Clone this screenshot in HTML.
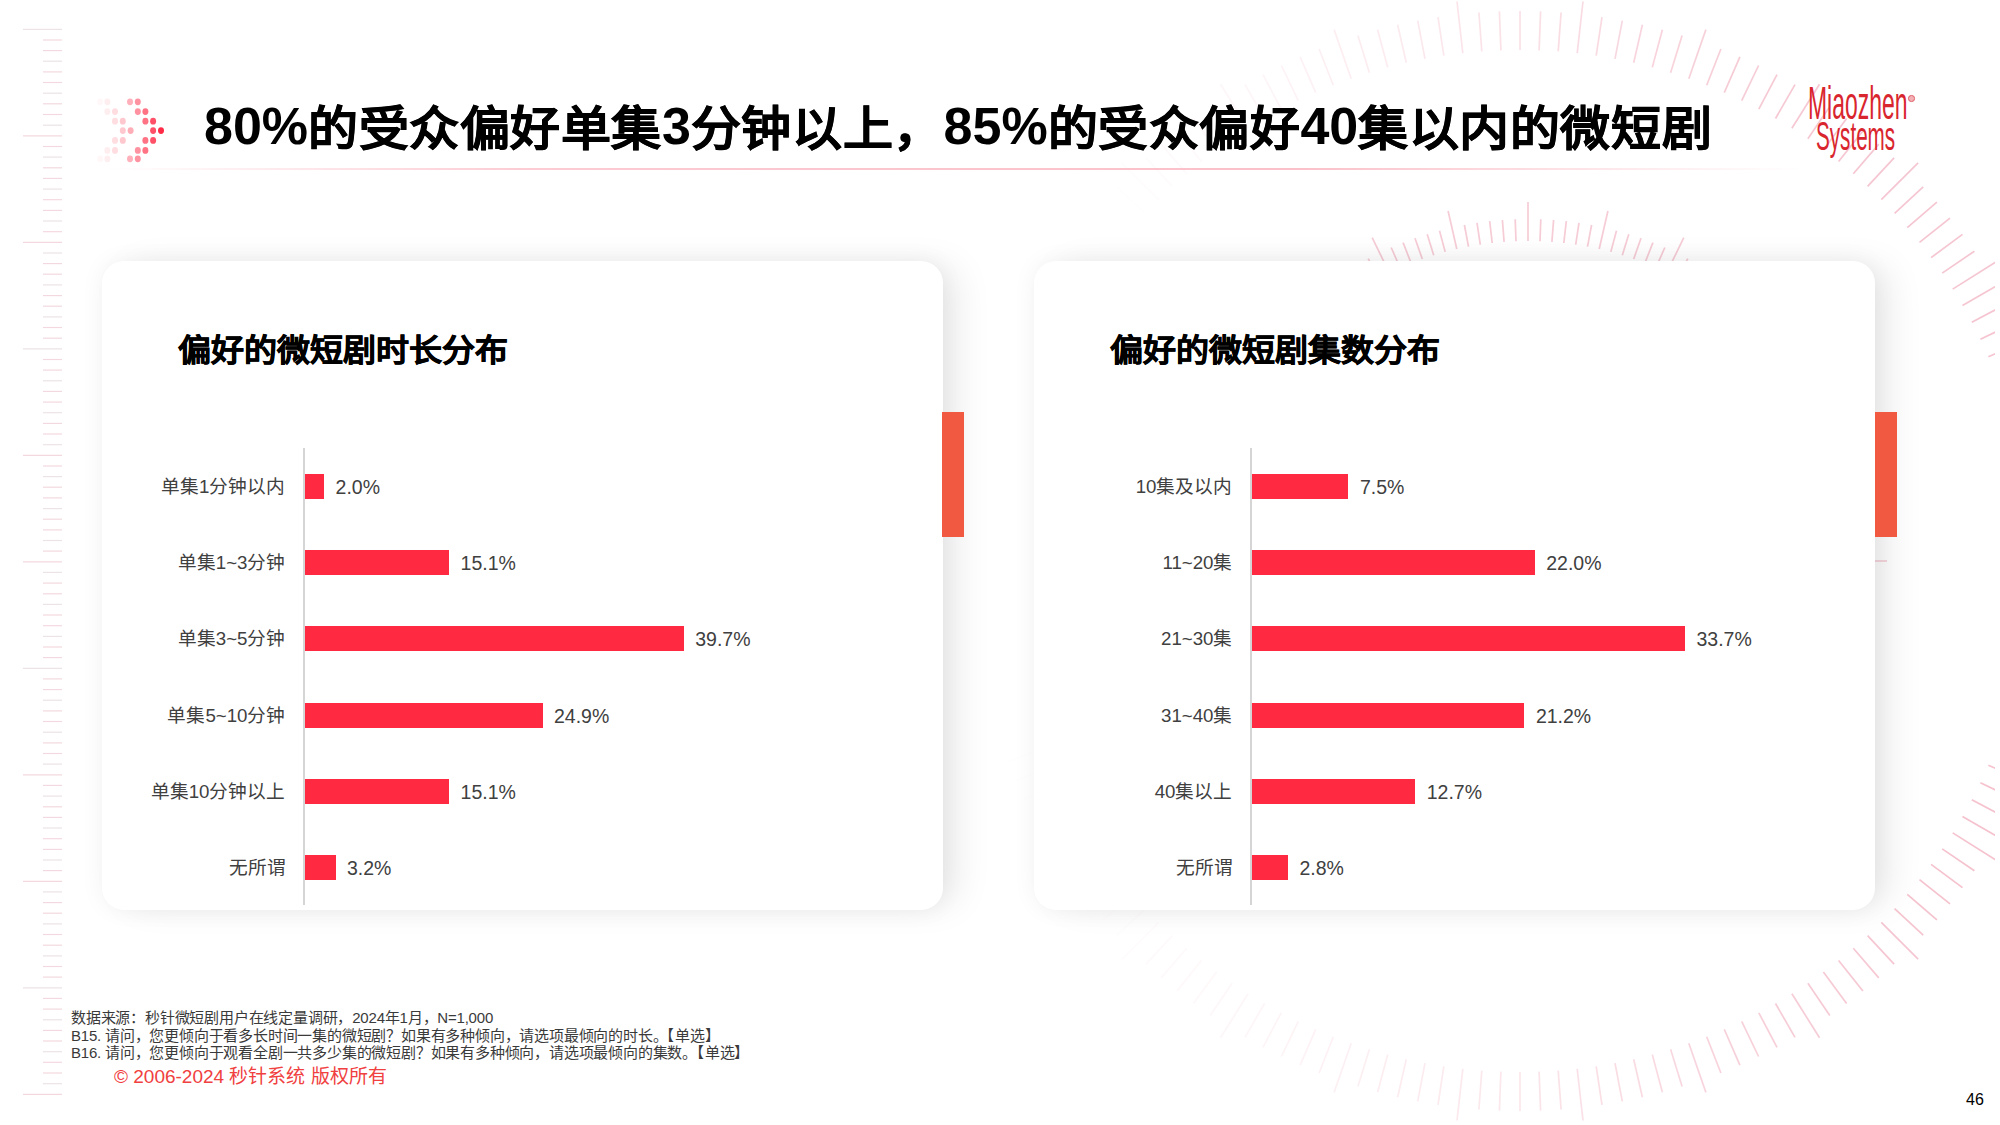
<!DOCTYPE html>
<html lang="zh-CN"><head><meta charset="utf-8">
<style>
*{margin:0;padding:0;box-sizing:border-box}
html,body{width:2000px;height:1125px;overflow:hidden;background:#fff}
body{position:relative;font-family:"Liberation Sans",sans-serif;color:#000}
.abs{position:absolute}
svg.deco{position:absolute;left:0;top:0}
.title{position:absolute;left:204px;top:96px;font-size:52px;font-weight:bold;line-height:60px;white-space:nowrap;letter-spacing:0px}
.title .c{font-size:50px;letter-spacing:0.55px;-webkit-text-stroke:0.5px #000;display:inline-block;transform:translateY(1.9px) scaleY(0.94)}
.title .d{font-size:52px}
.uline{position:absolute;left:105px;top:168px;width:1700px;height:2px;background:linear-gradient(90deg,rgba(255,60,90,0) 0%,rgba(250,160,175,0.55) 25%,rgba(248,150,165,0.6) 70%,rgba(250,160,175,0) 100%)}
.card{position:absolute;top:261px;width:841px;height:649px;background:#fff;border-radius:22px;box-shadow:20px 0 36px -6px rgba(0,0,0,0.085),0 0 24px rgba(0,0,0,0.055)}
.accent{position:absolute;top:412px;width:22px;height:125px;background:#f15a40}
.ctitle{position:absolute;top:330px;font-size:33px;font-weight:bold;line-height:40px;white-space:nowrap;-webkit-text-stroke:0.6px #000;transform:translateY(0.5px) scaleY(0.92)}
.axis{position:absolute;top:448px;width:2px;height:457px;background:#d5d5d5}
.bar{position:absolute;height:25px;background:#ff2a41}
.lab{position:absolute;width:300px;text-align:right;font-size:18.7px;line-height:25px;color:#404040;white-space:nowrap}
.val{position:absolute;font-size:19.5px;line-height:25px;color:#404040;white-space:nowrap}
.note{position:absolute;left:71px;font-size:15px;letter-spacing:-0.2px;line-height:17.5px;color:#3a3a3a;white-space:nowrap}
.copy{position:absolute;left:114px;top:1064.5px;font-size:19px;line-height:24px;color:#f04040;white-space:nowrap}
.pnum{position:absolute;left:1966px;top:1090px;font-size:16px;line-height:20px;color:#000}
.logo{position:absolute;color:#d9262e;white-space:nowrap;transform-origin:0 0}
</style></head><body>
<svg class="deco" width="2000" height="1125" viewBox="0 0 2000 1125">
<defs><clipPath id="cp"><rect x="0" y="0" width="1995" height="1125"/></clipPath></defs>
<line x1="23" y1="29.3" x2="62" y2="29.3" stroke="#ebe3e5" stroke-width="1.2"/>
<line x1="43" y1="40.0" x2="62" y2="40.0" stroke="#f3d9df" stroke-width="1.2"/>
<line x1="43" y1="50.6" x2="62" y2="50.6" stroke="#f3d9df" stroke-width="1.2"/>
<line x1="43" y1="61.2" x2="62" y2="61.2" stroke="#ebe3e5" stroke-width="1.2"/>
<line x1="43" y1="71.9" x2="62" y2="71.9" stroke="#f3d9df" stroke-width="1.2"/>
<line x1="43" y1="82.5" x2="62" y2="82.5" stroke="#f3d9df" stroke-width="1.2"/>
<line x1="43" y1="93.2" x2="62" y2="93.2" stroke="#ebe3e5" stroke-width="1.2"/>
<line x1="43" y1="103.8" x2="62" y2="103.8" stroke="#f3d9df" stroke-width="1.2"/>
<line x1="43" y1="114.5" x2="62" y2="114.5" stroke="#f3d9df" stroke-width="1.2"/>
<line x1="43" y1="125.2" x2="62" y2="125.2" stroke="#ebe3e5" stroke-width="1.2"/>
<line x1="23" y1="135.8" x2="62" y2="135.8" stroke="#f3d9df" stroke-width="1.2"/>
<line x1="43" y1="146.5" x2="62" y2="146.5" stroke="#f3d9df" stroke-width="1.2"/>
<line x1="43" y1="157.1" x2="62" y2="157.1" stroke="#ebe3e5" stroke-width="1.2"/>
<line x1="43" y1="167.8" x2="62" y2="167.8" stroke="#f3d9df" stroke-width="1.2"/>
<line x1="43" y1="178.4" x2="62" y2="178.4" stroke="#f3d9df" stroke-width="1.2"/>
<line x1="43" y1="189.1" x2="62" y2="189.1" stroke="#ebe3e5" stroke-width="1.2"/>
<line x1="43" y1="199.7" x2="62" y2="199.7" stroke="#f3d9df" stroke-width="1.2"/>
<line x1="43" y1="210.4" x2="62" y2="210.4" stroke="#f3d9df" stroke-width="1.2"/>
<line x1="43" y1="221.0" x2="62" y2="221.0" stroke="#ebe3e5" stroke-width="1.2"/>
<line x1="43" y1="231.7" x2="62" y2="231.7" stroke="#f3d9df" stroke-width="1.2"/>
<line x1="23" y1="242.3" x2="62" y2="242.3" stroke="#f3d9df" stroke-width="1.2"/>
<line x1="43" y1="253.0" x2="62" y2="253.0" stroke="#ebe3e5" stroke-width="1.2"/>
<line x1="43" y1="263.6" x2="62" y2="263.6" stroke="#f3d9df" stroke-width="1.2"/>
<line x1="43" y1="274.2" x2="62" y2="274.2" stroke="#f3d9df" stroke-width="1.2"/>
<line x1="43" y1="284.9" x2="62" y2="284.9" stroke="#ebe3e5" stroke-width="1.2"/>
<line x1="43" y1="295.6" x2="62" y2="295.6" stroke="#f3d9df" stroke-width="1.2"/>
<line x1="43" y1="306.2" x2="62" y2="306.2" stroke="#f3d9df" stroke-width="1.2"/>
<line x1="43" y1="316.9" x2="62" y2="316.9" stroke="#ebe3e5" stroke-width="1.2"/>
<line x1="43" y1="327.5" x2="62" y2="327.5" stroke="#f3d9df" stroke-width="1.2"/>
<line x1="43" y1="338.2" x2="62" y2="338.2" stroke="#f3d9df" stroke-width="1.2"/>
<line x1="23" y1="348.8" x2="62" y2="348.8" stroke="#ebe3e5" stroke-width="1.2"/>
<line x1="43" y1="359.5" x2="62" y2="359.5" stroke="#f3d9df" stroke-width="1.2"/>
<line x1="43" y1="370.1" x2="62" y2="370.1" stroke="#f3d9df" stroke-width="1.2"/>
<line x1="43" y1="380.8" x2="62" y2="380.8" stroke="#ebe3e5" stroke-width="1.2"/>
<line x1="43" y1="391.4" x2="62" y2="391.4" stroke="#f3d9df" stroke-width="1.2"/>
<line x1="43" y1="402.1" x2="62" y2="402.1" stroke="#f3d9df" stroke-width="1.2"/>
<line x1="43" y1="412.7" x2="62" y2="412.7" stroke="#ebe3e5" stroke-width="1.2"/>
<line x1="43" y1="423.4" x2="62" y2="423.4" stroke="#f3d9df" stroke-width="1.2"/>
<line x1="43" y1="434.0" x2="62" y2="434.0" stroke="#f3d9df" stroke-width="1.2"/>
<line x1="43" y1="444.7" x2="62" y2="444.7" stroke="#ebe3e5" stroke-width="1.2"/>
<line x1="23" y1="455.3" x2="62" y2="455.3" stroke="#f3d9df" stroke-width="1.2"/>
<line x1="43" y1="466.0" x2="62" y2="466.0" stroke="#f3d9df" stroke-width="1.2"/>
<line x1="43" y1="476.6" x2="62" y2="476.6" stroke="#ebe3e5" stroke-width="1.2"/>
<line x1="43" y1="487.2" x2="62" y2="487.2" stroke="#f3d9df" stroke-width="1.2"/>
<line x1="43" y1="497.9" x2="62" y2="497.9" stroke="#f3d9df" stroke-width="1.2"/>
<line x1="43" y1="508.6" x2="62" y2="508.6" stroke="#ebe3e5" stroke-width="1.2"/>
<line x1="43" y1="519.2" x2="62" y2="519.2" stroke="#f3d9df" stroke-width="1.2"/>
<line x1="43" y1="529.9" x2="62" y2="529.9" stroke="#f3d9df" stroke-width="1.2"/>
<line x1="43" y1="540.5" x2="62" y2="540.5" stroke="#ebe3e5" stroke-width="1.2"/>
<line x1="43" y1="551.1" x2="62" y2="551.1" stroke="#f3d9df" stroke-width="1.2"/>
<line x1="23" y1="561.8" x2="62" y2="561.8" stroke="#f3d9df" stroke-width="1.2"/>
<line x1="43" y1="572.4" x2="62" y2="572.4" stroke="#ebe3e5" stroke-width="1.2"/>
<line x1="43" y1="583.1" x2="62" y2="583.1" stroke="#f3d9df" stroke-width="1.2"/>
<line x1="43" y1="593.8" x2="62" y2="593.8" stroke="#f3d9df" stroke-width="1.2"/>
<line x1="43" y1="604.4" x2="62" y2="604.4" stroke="#ebe3e5" stroke-width="1.2"/>
<line x1="43" y1="615.0" x2="62" y2="615.0" stroke="#f3d9df" stroke-width="1.2"/>
<line x1="43" y1="625.7" x2="62" y2="625.7" stroke="#f3d9df" stroke-width="1.2"/>
<line x1="43" y1="636.4" x2="62" y2="636.4" stroke="#ebe3e5" stroke-width="1.2"/>
<line x1="43" y1="647.0" x2="62" y2="647.0" stroke="#f3d9df" stroke-width="1.2"/>
<line x1="43" y1="657.6" x2="62" y2="657.6" stroke="#f3d9df" stroke-width="1.2"/>
<line x1="23" y1="668.3" x2="62" y2="668.3" stroke="#ebe3e5" stroke-width="1.2"/>
<line x1="43" y1="678.9" x2="62" y2="678.9" stroke="#f3d9df" stroke-width="1.2"/>
<line x1="43" y1="689.6" x2="62" y2="689.6" stroke="#f3d9df" stroke-width="1.2"/>
<line x1="43" y1="700.2" x2="62" y2="700.2" stroke="#ebe3e5" stroke-width="1.2"/>
<line x1="43" y1="710.9" x2="62" y2="710.9" stroke="#f3d9df" stroke-width="1.2"/>
<line x1="43" y1="721.5" x2="62" y2="721.5" stroke="#f3d9df" stroke-width="1.2"/>
<line x1="43" y1="732.2" x2="62" y2="732.2" stroke="#ebe3e5" stroke-width="1.2"/>
<line x1="43" y1="742.9" x2="62" y2="742.9" stroke="#f3d9df" stroke-width="1.2"/>
<line x1="43" y1="753.5" x2="62" y2="753.5" stroke="#f3d9df" stroke-width="1.2"/>
<line x1="43" y1="764.1" x2="62" y2="764.1" stroke="#ebe3e5" stroke-width="1.2"/>
<line x1="23" y1="774.8" x2="62" y2="774.8" stroke="#f3d9df" stroke-width="1.2"/>
<line x1="43" y1="785.4" x2="62" y2="785.4" stroke="#f3d9df" stroke-width="1.2"/>
<line x1="43" y1="796.1" x2="62" y2="796.1" stroke="#ebe3e5" stroke-width="1.2"/>
<line x1="43" y1="806.8" x2="62" y2="806.8" stroke="#f3d9df" stroke-width="1.2"/>
<line x1="43" y1="817.4" x2="62" y2="817.4" stroke="#f3d9df" stroke-width="1.2"/>
<line x1="43" y1="828.0" x2="62" y2="828.0" stroke="#ebe3e5" stroke-width="1.2"/>
<line x1="43" y1="838.7" x2="62" y2="838.7" stroke="#f3d9df" stroke-width="1.2"/>
<line x1="43" y1="849.4" x2="62" y2="849.4" stroke="#f3d9df" stroke-width="1.2"/>
<line x1="43" y1="860.0" x2="62" y2="860.0" stroke="#ebe3e5" stroke-width="1.2"/>
<line x1="43" y1="870.6" x2="62" y2="870.6" stroke="#f3d9df" stroke-width="1.2"/>
<line x1="23" y1="881.3" x2="62" y2="881.3" stroke="#f3d9df" stroke-width="1.2"/>
<line x1="43" y1="891.9" x2="62" y2="891.9" stroke="#ebe3e5" stroke-width="1.2"/>
<line x1="43" y1="902.6" x2="62" y2="902.6" stroke="#f3d9df" stroke-width="1.2"/>
<line x1="43" y1="913.2" x2="62" y2="913.2" stroke="#f3d9df" stroke-width="1.2"/>
<line x1="43" y1="923.9" x2="62" y2="923.9" stroke="#ebe3e5" stroke-width="1.2"/>
<line x1="43" y1="934.5" x2="62" y2="934.5" stroke="#f3d9df" stroke-width="1.2"/>
<line x1="43" y1="945.2" x2="62" y2="945.2" stroke="#f3d9df" stroke-width="1.2"/>
<line x1="43" y1="955.9" x2="62" y2="955.9" stroke="#ebe3e5" stroke-width="1.2"/>
<line x1="43" y1="966.5" x2="62" y2="966.5" stroke="#f3d9df" stroke-width="1.2"/>
<line x1="43" y1="977.1" x2="62" y2="977.1" stroke="#f3d9df" stroke-width="1.2"/>
<line x1="23" y1="987.8" x2="62" y2="987.8" stroke="#ebe3e5" stroke-width="1.2"/>
<line x1="43" y1="998.4" x2="62" y2="998.4" stroke="#f3d9df" stroke-width="1.2"/>
<line x1="43" y1="1009.1" x2="62" y2="1009.1" stroke="#f3d9df" stroke-width="1.2"/>
<line x1="43" y1="1019.8" x2="62" y2="1019.8" stroke="#ebe3e5" stroke-width="1.2"/>
<line x1="43" y1="1030.4" x2="62" y2="1030.4" stroke="#f3d9df" stroke-width="1.2"/>
<line x1="43" y1="1041.0" x2="62" y2="1041.0" stroke="#f3d9df" stroke-width="1.2"/>
<line x1="43" y1="1051.7" x2="62" y2="1051.7" stroke="#ebe3e5" stroke-width="1.2"/>
<line x1="43" y1="1062.3" x2="62" y2="1062.3" stroke="#f3d9df" stroke-width="1.2"/>
<line x1="43" y1="1073.0" x2="62" y2="1073.0" stroke="#f3d9df" stroke-width="1.2"/>
<line x1="43" y1="1083.7" x2="62" y2="1083.7" stroke="#ebe3e5" stroke-width="1.2"/>
<line x1="23" y1="1094.3" x2="62" y2="1094.3" stroke="#f3d9df" stroke-width="1.2"/>
<g clip-path="url(#cp)">
<line x1="1528.0" y1="241.0" x2="1528.0" y2="202.0" stroke="#ee9aae" stroke-opacity="0.50" stroke-width="1.7"/>
<line x1="1540.0" y1="241.2" x2="1540.8" y2="219.2" stroke="#ee9aae" stroke-opacity="0.50" stroke-width="1.7"/>
<line x1="1551.9" y1="241.9" x2="1553.6" y2="220.0" stroke="#ee9aae" stroke-opacity="0.50" stroke-width="1.7"/>
<line x1="1563.8" y1="243.0" x2="1566.3" y2="221.2" stroke="#ee9aae" stroke-opacity="0.50" stroke-width="1.7"/>
<line x1="1575.7" y1="244.6" x2="1579.0" y2="222.8" stroke="#ee9aae" stroke-opacity="0.50" stroke-width="1.7"/>
<line x1="1587.5" y1="246.6" x2="1591.6" y2="225.0" stroke="#ee9aae" stroke-opacity="0.50" stroke-width="1.7"/>
<line x1="1599.2" y1="249.0" x2="1607.9" y2="211.0" stroke="#ee9aae" stroke-opacity="0.50" stroke-width="1.7"/>
<line x1="1610.8" y1="251.9" x2="1616.5" y2="230.7" stroke="#ee9aae" stroke-opacity="0.50" stroke-width="1.7"/>
<line x1="1622.3" y1="255.2" x2="1628.8" y2="234.2" stroke="#ee9aae" stroke-opacity="0.50" stroke-width="1.7"/>
<line x1="1633.7" y1="259.0" x2="1641.0" y2="238.2" stroke="#ee9aae" stroke-opacity="0.50" stroke-width="1.7"/>
<line x1="1644.9" y1="263.1" x2="1652.9" y2="242.6" stroke="#ee9aae" stroke-opacity="0.50" stroke-width="1.7"/>
<line x1="1656.0" y1="267.7" x2="1664.8" y2="247.5" stroke="#ee9aae" stroke-opacity="0.50" stroke-width="1.7"/>
<line x1="1666.8" y1="272.7" x2="1683.8" y2="237.6" stroke="#ee9aae" stroke-opacity="0.50" stroke-width="1.7"/>
<line x1="1677.5" y1="278.1" x2="1687.8" y2="258.6" stroke="#ee9aae" stroke-opacity="0.50" stroke-width="1.7"/>
<line x1="1688.0" y1="283.9" x2="1699.0" y2="264.8" stroke="#ee9aae" stroke-opacity="0.50" stroke-width="1.7"/>
<line x1="1698.3" y1="290.0" x2="1710.0" y2="271.4" stroke="#ee9aae" stroke-opacity="0.50" stroke-width="1.7"/>
<line x1="1708.3" y1="296.6" x2="1720.7" y2="278.4" stroke="#ee9aae" stroke-opacity="0.50" stroke-width="1.7"/>
<line x1="1718.0" y1="303.5" x2="1731.1" y2="285.8" stroke="#ee9aae" stroke-opacity="0.50" stroke-width="1.7"/>
<line x1="1727.5" y1="310.8" x2="1751.8" y2="280.3" stroke="#ee9aae" stroke-opacity="0.50" stroke-width="1.7"/>
<line x1="1736.7" y1="318.4" x2="1751.1" y2="301.8" stroke="#ee9aae" stroke-opacity="0.50" stroke-width="1.7"/>
<line x1="1745.7" y1="326.4" x2="1760.6" y2="310.3" stroke="#ee9aae" stroke-opacity="0.50" stroke-width="1.7"/>
<line x1="1754.3" y1="334.7" x2="1769.8" y2="319.2" stroke="#ee9aae" stroke-opacity="0.50" stroke-width="1.7"/>
<line x1="1762.6" y1="343.3" x2="1778.7" y2="328.4" stroke="#ee9aae" stroke-opacity="0.50" stroke-width="1.7"/>
<line x1="1770.6" y1="352.3" x2="1787.2" y2="337.9" stroke="#ee9aae" stroke-opacity="0.50" stroke-width="1.7"/>
<line x1="1778.2" y1="361.5" x2="1808.7" y2="337.2" stroke="#ee9aae" stroke-opacity="0.50" stroke-width="1.7"/>
<line x1="1785.5" y1="371.0" x2="1803.2" y2="357.9" stroke="#ee9aae" stroke-opacity="0.50" stroke-width="1.7"/>
<line x1="1792.4" y1="380.7" x2="1810.6" y2="368.3" stroke="#ee9aae" stroke-opacity="0.50" stroke-width="1.7"/>
<line x1="1799.0" y1="390.7" x2="1817.6" y2="379.0" stroke="#ee9aae" stroke-opacity="0.50" stroke-width="1.7"/>
<line x1="1805.1" y1="401.0" x2="1824.2" y2="390.0" stroke="#ee9aae" stroke-opacity="0.50" stroke-width="1.7"/>
<line x1="1810.9" y1="411.5" x2="1830.4" y2="401.2" stroke="#ee9aae" stroke-opacity="0.50" stroke-width="1.7"/>
<line x1="1816.3" y1="422.2" x2="1851.4" y2="405.2" stroke="#ee9aae" stroke-opacity="0.50" stroke-width="1.7"/>
<line x1="1821.3" y1="433.0" x2="1841.5" y2="424.2" stroke="#ee9aae" stroke-opacity="0.50" stroke-width="1.7"/>
<line x1="1825.9" y1="444.1" x2="1846.4" y2="436.1" stroke="#ee9aae" stroke-opacity="0.50" stroke-width="1.7"/>
<line x1="1830.0" y1="455.3" x2="1850.8" y2="448.0" stroke="#ee9aae" stroke-opacity="0.50" stroke-width="1.7"/>
<line x1="1833.8" y1="466.7" x2="1854.8" y2="460.2" stroke="#ee9aae" stroke-opacity="0.50" stroke-width="1.7"/>
<line x1="1837.1" y1="478.2" x2="1858.3" y2="472.5" stroke="#ee9aae" stroke-opacity="0.50" stroke-width="1.7"/>
<line x1="1840.0" y1="489.8" x2="1878.0" y2="481.1" stroke="#ee9aae" stroke-opacity="0.50" stroke-width="1.7"/>
<line x1="1842.4" y1="501.5" x2="1864.0" y2="497.4" stroke="#ee9aae" stroke-opacity="0.50" stroke-width="1.7"/>
<line x1="1844.4" y1="513.3" x2="1866.2" y2="510.0" stroke="#ee9aae" stroke-opacity="0.50" stroke-width="1.7"/>
<line x1="1846.0" y1="525.2" x2="1867.8" y2="522.7" stroke="#ee9aae" stroke-opacity="0.50" stroke-width="1.7"/>
<line x1="1847.1" y1="537.1" x2="1869.0" y2="535.4" stroke="#ee9aae" stroke-opacity="0.50" stroke-width="1.7"/>
<line x1="1847.8" y1="549.0" x2="1869.8" y2="548.2" stroke="#ee9aae" stroke-opacity="0.50" stroke-width="1.7"/>
<line x1="1848.0" y1="561.0" x2="1887.0" y2="561.0" stroke="#ee9aae" stroke-opacity="0.50" stroke-width="1.7"/>
<line x1="1847.8" y1="573.0" x2="1869.8" y2="573.8" stroke="#ee9aae" stroke-opacity="0.50" stroke-width="1.7"/>
<line x1="1847.1" y1="584.9" x2="1869.0" y2="586.6" stroke="#ee9aae" stroke-opacity="0.50" stroke-width="1.7"/>
<line x1="1846.0" y1="596.8" x2="1867.8" y2="599.3" stroke="#ee9aae" stroke-opacity="0.50" stroke-width="1.7"/>
<line x1="1844.4" y1="608.7" x2="1866.2" y2="612.0" stroke="#ee9aae" stroke-opacity="0.50" stroke-width="1.7"/>
<line x1="1208.2" y1="549.0" x2="1186.2" y2="548.2" stroke="#ee9aae" stroke-opacity="0.50" stroke-width="1.7"/>
<line x1="1208.9" y1="537.1" x2="1187.0" y2="535.4" stroke="#ee9aae" stroke-opacity="0.50" stroke-width="1.7"/>
<line x1="1210.0" y1="525.2" x2="1188.2" y2="522.7" stroke="#ee9aae" stroke-opacity="0.50" stroke-width="1.7"/>
<line x1="1211.6" y1="513.3" x2="1189.8" y2="510.0" stroke="#ee9aae" stroke-opacity="0.50" stroke-width="1.7"/>
<line x1="1213.6" y1="501.5" x2="1192.0" y2="497.4" stroke="#ee9aae" stroke-opacity="0.50" stroke-width="1.7"/>
<line x1="1216.0" y1="489.8" x2="1178.0" y2="481.1" stroke="#ee9aae" stroke-opacity="0.50" stroke-width="1.7"/>
<line x1="1218.9" y1="478.2" x2="1197.7" y2="472.5" stroke="#ee9aae" stroke-opacity="0.50" stroke-width="1.7"/>
<line x1="1222.2" y1="466.7" x2="1201.2" y2="460.2" stroke="#ee9aae" stroke-opacity="0.50" stroke-width="1.7"/>
<line x1="1226.0" y1="455.3" x2="1205.2" y2="448.0" stroke="#ee9aae" stroke-opacity="0.50" stroke-width="1.7"/>
<line x1="1230.1" y1="444.1" x2="1209.6" y2="436.1" stroke="#ee9aae" stroke-opacity="0.50" stroke-width="1.7"/>
<line x1="1234.7" y1="433.0" x2="1214.5" y2="424.2" stroke="#ee9aae" stroke-opacity="0.50" stroke-width="1.7"/>
<line x1="1239.7" y1="422.2" x2="1204.6" y2="405.2" stroke="#ee9aae" stroke-opacity="0.50" stroke-width="1.7"/>
<line x1="1245.1" y1="411.5" x2="1225.6" y2="401.2" stroke="#ee9aae" stroke-opacity="0.50" stroke-width="1.7"/>
<line x1="1250.9" y1="401.0" x2="1231.8" y2="390.0" stroke="#ee9aae" stroke-opacity="0.50" stroke-width="1.7"/>
<line x1="1257.0" y1="390.7" x2="1238.4" y2="379.0" stroke="#ee9aae" stroke-opacity="0.50" stroke-width="1.7"/>
<line x1="1263.6" y1="380.7" x2="1245.4" y2="368.3" stroke="#ee9aae" stroke-opacity="0.50" stroke-width="1.7"/>
<line x1="1270.5" y1="371.0" x2="1252.8" y2="357.9" stroke="#ee9aae" stroke-opacity="0.50" stroke-width="1.7"/>
<line x1="1277.8" y1="361.5" x2="1247.3" y2="337.2" stroke="#ee9aae" stroke-opacity="0.50" stroke-width="1.7"/>
<line x1="1285.4" y1="352.3" x2="1268.8" y2="337.9" stroke="#ee9aae" stroke-opacity="0.50" stroke-width="1.7"/>
<line x1="1293.4" y1="343.3" x2="1277.3" y2="328.4" stroke="#ee9aae" stroke-opacity="0.50" stroke-width="1.7"/>
<line x1="1301.7" y1="334.7" x2="1286.2" y2="319.2" stroke="#ee9aae" stroke-opacity="0.50" stroke-width="1.7"/>
<line x1="1310.3" y1="326.4" x2="1295.4" y2="310.3" stroke="#ee9aae" stroke-opacity="0.50" stroke-width="1.7"/>
<line x1="1319.3" y1="318.4" x2="1304.9" y2="301.8" stroke="#ee9aae" stroke-opacity="0.50" stroke-width="1.7"/>
<line x1="1328.5" y1="310.8" x2="1304.2" y2="280.3" stroke="#ee9aae" stroke-opacity="0.50" stroke-width="1.7"/>
<line x1="1338.0" y1="303.5" x2="1324.9" y2="285.8" stroke="#ee9aae" stroke-opacity="0.50" stroke-width="1.7"/>
<line x1="1347.7" y1="296.6" x2="1335.3" y2="278.4" stroke="#ee9aae" stroke-opacity="0.50" stroke-width="1.7"/>
<line x1="1357.7" y1="290.0" x2="1346.0" y2="271.4" stroke="#ee9aae" stroke-opacity="0.50" stroke-width="1.7"/>
<line x1="1368.0" y1="283.9" x2="1357.0" y2="264.8" stroke="#ee9aae" stroke-opacity="0.50" stroke-width="1.7"/>
<line x1="1378.5" y1="278.1" x2="1368.2" y2="258.6" stroke="#ee9aae" stroke-opacity="0.50" stroke-width="1.7"/>
<line x1="1389.2" y1="272.7" x2="1372.2" y2="237.6" stroke="#ee9aae" stroke-opacity="0.50" stroke-width="1.7"/>
<line x1="1400.0" y1="267.7" x2="1391.2" y2="247.5" stroke="#ee9aae" stroke-opacity="0.50" stroke-width="1.7"/>
<line x1="1411.1" y1="263.1" x2="1403.1" y2="242.6" stroke="#ee9aae" stroke-opacity="0.50" stroke-width="1.7"/>
<line x1="1422.3" y1="259.0" x2="1415.0" y2="238.2" stroke="#ee9aae" stroke-opacity="0.50" stroke-width="1.7"/>
<line x1="1433.7" y1="255.2" x2="1427.2" y2="234.2" stroke="#ee9aae" stroke-opacity="0.50" stroke-width="1.7"/>
<line x1="1445.2" y1="251.9" x2="1439.5" y2="230.7" stroke="#ee9aae" stroke-opacity="0.50" stroke-width="1.7"/>
<line x1="1456.8" y1="249.0" x2="1448.1" y2="211.0" stroke="#ee9aae" stroke-opacity="0.50" stroke-width="1.7"/>
<line x1="1468.5" y1="246.6" x2="1464.4" y2="225.0" stroke="#ee9aae" stroke-opacity="0.50" stroke-width="1.7"/>
<line x1="1480.3" y1="244.6" x2="1477.0" y2="222.8" stroke="#ee9aae" stroke-opacity="0.50" stroke-width="1.7"/>
<line x1="1492.2" y1="243.0" x2="1489.7" y2="221.2" stroke="#ee9aae" stroke-opacity="0.50" stroke-width="1.7"/>
<line x1="1504.1" y1="241.9" x2="1502.4" y2="220.0" stroke="#ee9aae" stroke-opacity="0.50" stroke-width="1.7"/>
<line x1="1516.0" y1="241.2" x2="1515.2" y2="219.2" stroke="#ee9aae" stroke-opacity="0.50" stroke-width="1.7"/>
<line x1="1577.2" y1="53.2" x2="1583.0" y2="1.5" stroke="#ee9aae" stroke-opacity="0.35" stroke-width="1.7"/>
<line x1="1596.2" y1="55.7" x2="1602.0" y2="17.1" stroke="#ee9aae" stroke-opacity="0.37" stroke-width="1.7"/>
<line x1="1615.0" y1="58.9" x2="1622.3" y2="20.6" stroke="#ee9aae" stroke-opacity="0.39" stroke-width="1.7"/>
<line x1="1633.7" y1="62.8" x2="1642.4" y2="24.8" stroke="#ee9aae" stroke-opacity="0.41" stroke-width="1.7"/>
<line x1="1652.3" y1="67.4" x2="1662.4" y2="29.7" stroke="#ee9aae" stroke-opacity="0.43" stroke-width="1.7"/>
<line x1="1670.6" y1="72.7" x2="1682.1" y2="35.4" stroke="#ee9aae" stroke-opacity="0.44" stroke-width="1.7"/>
<line x1="1688.8" y1="78.7" x2="1705.9" y2="29.6" stroke="#ee9aae" stroke-opacity="0.46" stroke-width="1.7"/>
<line x1="1706.7" y1="85.3" x2="1720.9" y2="49.0" stroke="#ee9aae" stroke-opacity="0.48" stroke-width="1.7"/>
<line x1="1724.3" y1="92.6" x2="1739.9" y2="56.9" stroke="#ee9aae" stroke-opacity="0.50" stroke-width="1.7"/>
<line x1="1741.7" y1="100.6" x2="1758.6" y2="65.5" stroke="#ee9aae" stroke-opacity="0.51" stroke-width="1.7"/>
<line x1="1758.8" y1="109.2" x2="1777.0" y2="74.7" stroke="#ee9aae" stroke-opacity="0.53" stroke-width="1.7"/>
<line x1="1775.5" y1="118.5" x2="1795.0" y2="84.7" stroke="#ee9aae" stroke-opacity="0.55" stroke-width="1.7"/>
<line x1="1791.9" y1="128.3" x2="1819.5" y2="84.3" stroke="#ee9aae" stroke-opacity="0.55" stroke-width="1.7"/>
<line x1="1807.9" y1="138.8" x2="1829.8" y2="106.6" stroke="#ee9aae" stroke-opacity="0.55" stroke-width="1.7"/>
<line x1="1823.4" y1="149.9" x2="1846.6" y2="118.5" stroke="#ee9aae" stroke-opacity="0.56" stroke-width="1.7"/>
<line x1="1838.6" y1="161.5" x2="1862.9" y2="131.0" stroke="#ee9aae" stroke-opacity="0.56" stroke-width="1.7"/>
<line x1="1853.3" y1="173.7" x2="1878.8" y2="144.1" stroke="#ee9aae" stroke-opacity="0.56" stroke-width="1.7"/>
<line x1="1867.6" y1="186.4" x2="1894.1" y2="157.8" stroke="#ee9aae" stroke-opacity="0.56" stroke-width="1.7"/>
<line x1="1881.3" y1="199.7" x2="1918.1" y2="162.9" stroke="#ee9aae" stroke-opacity="0.56" stroke-width="1.7"/>
<line x1="1894.6" y1="213.4" x2="1923.2" y2="186.9" stroke="#ee9aae" stroke-opacity="0.56" stroke-width="1.7"/>
<line x1="1907.3" y1="227.7" x2="1936.9" y2="202.2" stroke="#ee9aae" stroke-opacity="0.57" stroke-width="1.7"/>
<line x1="1919.5" y1="242.4" x2="1950.0" y2="218.1" stroke="#ee9aae" stroke-opacity="0.57" stroke-width="1.7"/>
<line x1="1931.1" y1="257.6" x2="1962.5" y2="234.4" stroke="#ee9aae" stroke-opacity="0.57" stroke-width="1.7"/>
<line x1="1942.2" y1="273.1" x2="1974.4" y2="251.2" stroke="#ee9aae" stroke-opacity="0.57" stroke-width="1.7"/>
<line x1="1952.7" y1="289.1" x2="1996.7" y2="261.5" stroke="#ee9aae" stroke-opacity="0.57" stroke-width="1.7"/>
<line x1="1962.5" y1="305.5" x2="1996.3" y2="286.0" stroke="#ee9aae" stroke-opacity="0.57" stroke-width="1.7"/>
<line x1="1971.8" y1="322.2" x2="2006.3" y2="304.0" stroke="#ee9aae" stroke-opacity="0.58" stroke-width="1.7"/>
<line x1="1980.4" y1="339.3" x2="2015.5" y2="322.4" stroke="#ee9aae" stroke-opacity="0.58" stroke-width="1.7"/>
<line x1="1988.4" y1="356.7" x2="2024.1" y2="341.1" stroke="#ee9aae" stroke-opacity="0.58" stroke-width="1.7"/>
<line x1="1995.7" y1="374.3" x2="2032.0" y2="360.1" stroke="#ee9aae" stroke-opacity="0.58" stroke-width="1.7"/>
<line x1="2002.3" y1="392.2" x2="2051.4" y2="375.1" stroke="#ee9aae" stroke-opacity="0.58" stroke-width="1.7"/>
<line x1="2008.3" y1="410.4" x2="2045.6" y2="398.9" stroke="#ee9aae" stroke-opacity="0.59" stroke-width="1.7"/>
<line x1="2013.6" y1="428.7" x2="2051.3" y2="418.6" stroke="#ee9aae" stroke-opacity="0.59" stroke-width="1.7"/>
<line x1="2018.2" y1="447.3" x2="2056.2" y2="438.6" stroke="#ee9aae" stroke-opacity="0.59" stroke-width="1.7"/>
<line x1="2022.1" y1="466.0" x2="2060.4" y2="458.7" stroke="#ee9aae" stroke-opacity="0.59" stroke-width="1.7"/>
<line x1="2025.3" y1="484.8" x2="2063.9" y2="479.0" stroke="#ee9aae" stroke-opacity="0.59" stroke-width="1.7"/>
<line x1="2027.8" y1="503.8" x2="2079.5" y2="498.0" stroke="#ee9aae" stroke-opacity="0.59" stroke-width="1.7"/>
<line x1="2029.6" y1="522.8" x2="2068.5" y2="519.9" stroke="#ee9aae" stroke-opacity="0.60" stroke-width="1.7"/>
<line x1="2030.6" y1="541.9" x2="2069.6" y2="540.4" stroke="#ee9aae" stroke-opacity="0.60" stroke-width="1.7"/>
<line x1="2031.0" y1="561.0" x2="2070.0" y2="561.0" stroke="#ee9aae" stroke-opacity="0.60" stroke-width="1.7"/>
<line x1="2030.6" y1="580.1" x2="2069.6" y2="581.6" stroke="#ee9aae" stroke-opacity="0.60" stroke-width="1.7"/>
<line x1="2029.6" y1="599.2" x2="2068.5" y2="602.1" stroke="#ee9aae" stroke-opacity="0.60" stroke-width="1.7"/>
<line x1="2027.8" y1="618.2" x2="2079.5" y2="624.0" stroke="#ee9aae" stroke-opacity="0.60" stroke-width="1.7"/>
<line x1="2025.3" y1="637.2" x2="2063.9" y2="643.0" stroke="#ee9aae" stroke-opacity="0.60" stroke-width="1.7"/>
<line x1="2022.1" y1="656.0" x2="2060.4" y2="663.3" stroke="#ee9aae" stroke-opacity="0.60" stroke-width="1.7"/>
<line x1="2018.2" y1="674.7" x2="2056.2" y2="683.4" stroke="#ee9aae" stroke-opacity="0.60" stroke-width="1.7"/>
<line x1="2013.6" y1="693.3" x2="2051.3" y2="703.4" stroke="#ee9aae" stroke-opacity="0.60" stroke-width="1.7"/>
<line x1="2008.3" y1="711.6" x2="2045.6" y2="723.1" stroke="#ee9aae" stroke-opacity="0.60" stroke-width="1.7"/>
<line x1="2002.3" y1="729.8" x2="2051.4" y2="746.9" stroke="#ee9aae" stroke-opacity="0.60" stroke-width="1.7"/>
<line x1="1995.7" y1="747.7" x2="2032.0" y2="761.9" stroke="#ee9aae" stroke-opacity="0.60" stroke-width="1.7"/>
<line x1="1988.4" y1="765.3" x2="2024.1" y2="780.9" stroke="#ee9aae" stroke-opacity="0.60" stroke-width="1.7"/>
<line x1="1980.4" y1="782.7" x2="2015.5" y2="799.6" stroke="#ee9aae" stroke-opacity="0.60" stroke-width="1.7"/>
<line x1="1971.8" y1="799.8" x2="2006.3" y2="818.0" stroke="#ee9aae" stroke-opacity="0.60" stroke-width="1.7"/>
<line x1="1962.5" y1="816.5" x2="1996.3" y2="836.0" stroke="#ee9aae" stroke-opacity="0.60" stroke-width="1.7"/>
<line x1="1952.7" y1="832.9" x2="1996.7" y2="860.5" stroke="#ee9aae" stroke-opacity="0.60" stroke-width="1.7"/>
<line x1="1942.2" y1="848.9" x2="1974.4" y2="870.8" stroke="#ee9aae" stroke-opacity="0.60" stroke-width="1.7"/>
<line x1="1931.1" y1="864.4" x2="1962.5" y2="887.6" stroke="#ee9aae" stroke-opacity="0.60" stroke-width="1.7"/>
<line x1="1919.5" y1="879.6" x2="1950.0" y2="903.9" stroke="#ee9aae" stroke-opacity="0.60" stroke-width="1.7"/>
<line x1="1907.3" y1="894.3" x2="1936.9" y2="919.8" stroke="#ee9aae" stroke-opacity="0.60" stroke-width="1.7"/>
<line x1="1894.6" y1="908.6" x2="1923.2" y2="935.1" stroke="#ee9aae" stroke-opacity="0.59" stroke-width="1.7"/>
<line x1="1881.3" y1="922.3" x2="1918.1" y2="959.1" stroke="#ee9aae" stroke-opacity="0.57" stroke-width="1.7"/>
<line x1="1867.6" y1="935.6" x2="1894.1" y2="964.2" stroke="#ee9aae" stroke-opacity="0.56" stroke-width="1.7"/>
<line x1="1853.3" y1="948.3" x2="1878.8" y2="977.9" stroke="#ee9aae" stroke-opacity="0.55" stroke-width="1.7"/>
<line x1="1838.6" y1="960.5" x2="1862.9" y2="991.0" stroke="#ee9aae" stroke-opacity="0.54" stroke-width="1.7"/>
<line x1="1823.4" y1="972.1" x2="1846.6" y2="1003.5" stroke="#ee9aae" stroke-opacity="0.53" stroke-width="1.7"/>
<line x1="1807.9" y1="983.2" x2="1829.8" y2="1015.4" stroke="#ee9aae" stroke-opacity="0.52" stroke-width="1.7"/>
<line x1="1791.9" y1="993.7" x2="1819.5" y2="1037.7" stroke="#ee9aae" stroke-opacity="0.51" stroke-width="1.7"/>
<line x1="1775.5" y1="1003.5" x2="1795.0" y2="1037.3" stroke="#ee9aae" stroke-opacity="0.50" stroke-width="1.7"/>
<line x1="1758.8" y1="1012.8" x2="1777.0" y2="1047.3" stroke="#ee9aae" stroke-opacity="0.48" stroke-width="1.7"/>
<line x1="1741.7" y1="1021.4" x2="1758.6" y2="1056.5" stroke="#ee9aae" stroke-opacity="0.46" stroke-width="1.7"/>
<line x1="1724.3" y1="1029.4" x2="1739.9" y2="1065.1" stroke="#ee9aae" stroke-opacity="0.45" stroke-width="1.7"/>
<line x1="1706.7" y1="1036.7" x2="1720.9" y2="1073.0" stroke="#ee9aae" stroke-opacity="0.43" stroke-width="1.7"/>
<line x1="1688.8" y1="1043.3" x2="1705.9" y2="1092.4" stroke="#ee9aae" stroke-opacity="0.41" stroke-width="1.7"/>
<line x1="1670.6" y1="1049.3" x2="1682.1" y2="1086.6" stroke="#ee9aae" stroke-opacity="0.39" stroke-width="1.7"/>
<line x1="1652.3" y1="1054.6" x2="1662.4" y2="1092.3" stroke="#ee9aae" stroke-opacity="0.37" stroke-width="1.7"/>
<line x1="1633.7" y1="1059.2" x2="1642.4" y2="1097.2" stroke="#ee9aae" stroke-opacity="0.36" stroke-width="1.7"/>
<line x1="1615.0" y1="1063.1" x2="1622.3" y2="1101.4" stroke="#ee9aae" stroke-opacity="0.34" stroke-width="1.7"/>
<line x1="1596.2" y1="1066.3" x2="1602.0" y2="1104.9" stroke="#ee9aae" stroke-opacity="0.32" stroke-width="1.7"/>
<line x1="1577.2" y1="1068.8" x2="1583.0" y2="1120.5" stroke="#ee9aae" stroke-opacity="0.30" stroke-width="1.7"/>
<line x1="1558.2" y1="1070.6" x2="1561.1" y2="1109.5" stroke="#ee9aae" stroke-opacity="0.29" stroke-width="1.7"/>
<line x1="1539.1" y1="1071.6" x2="1540.6" y2="1110.6" stroke="#ee9aae" stroke-opacity="0.27" stroke-width="1.7"/>
<line x1="1520.0" y1="1072.0" x2="1520.0" y2="1111.0" stroke="#ee9aae" stroke-opacity="0.25" stroke-width="1.7"/>
<line x1="1500.9" y1="1071.6" x2="1499.4" y2="1110.6" stroke="#ee9aae" stroke-opacity="0.24" stroke-width="1.7"/>
<line x1="1481.8" y1="1070.6" x2="1478.9" y2="1109.5" stroke="#ee9aae" stroke-opacity="0.23" stroke-width="1.7"/>
<line x1="1462.8" y1="1068.8" x2="1457.0" y2="1120.5" stroke="#ee9aae" stroke-opacity="0.22" stroke-width="1.7"/>
<line x1="1443.8" y1="1066.3" x2="1438.0" y2="1104.9" stroke="#ee9aae" stroke-opacity="0.21" stroke-width="1.7"/>
<line x1="1425.0" y1="1063.1" x2="1417.7" y2="1101.4" stroke="#ee9aae" stroke-opacity="0.20" stroke-width="1.7"/>
<line x1="1406.3" y1="1059.2" x2="1397.6" y2="1097.2" stroke="#ee9aae" stroke-opacity="0.19" stroke-width="1.7"/>
<line x1="1387.7" y1="1054.6" x2="1377.6" y2="1092.3" stroke="#ee9aae" stroke-opacity="0.18" stroke-width="1.7"/>
<line x1="1369.4" y1="1049.3" x2="1357.9" y2="1086.6" stroke="#ee9aae" stroke-opacity="0.16" stroke-width="1.7"/>
<line x1="1351.2" y1="1043.3" x2="1334.1" y2="1092.4" stroke="#ee9aae" stroke-opacity="0.15" stroke-width="1.7"/>
<line x1="1333.3" y1="1036.7" x2="1319.1" y2="1073.0" stroke="#ee9aae" stroke-opacity="0.14" stroke-width="1.7"/>
<line x1="1315.7" y1="1029.4" x2="1300.1" y2="1065.1" stroke="#ee9aae" stroke-opacity="0.13" stroke-width="1.7"/>
<line x1="1298.3" y1="1021.4" x2="1281.4" y2="1056.5" stroke="#ee9aae" stroke-opacity="0.12" stroke-width="1.7"/>
<line x1="1281.2" y1="1012.8" x2="1263.0" y2="1047.3" stroke="#ee9aae" stroke-opacity="0.11" stroke-width="1.7"/>
<line x1="1264.5" y1="1003.5" x2="1245.0" y2="1037.3" stroke="#ee9aae" stroke-opacity="0.10" stroke-width="1.7"/>
<line x1="1248.1" y1="993.7" x2="1220.5" y2="1037.7" stroke="#ee9aae" stroke-opacity="0.09" stroke-width="1.7"/>
<line x1="1232.1" y1="983.2" x2="1210.2" y2="1015.4" stroke="#ee9aae" stroke-opacity="0.08" stroke-width="1.7"/>
<line x1="1216.6" y1="972.1" x2="1193.4" y2="1003.5" stroke="#ee9aae" stroke-opacity="0.07" stroke-width="1.7"/>
<line x1="1201.4" y1="960.5" x2="1177.1" y2="991.0" stroke="#ee9aae" stroke-opacity="0.07" stroke-width="1.7"/>
<line x1="1186.7" y1="948.3" x2="1161.2" y2="977.9" stroke="#ee9aae" stroke-opacity="0.06" stroke-width="1.7"/>
<line x1="1172.4" y1="935.6" x2="1145.9" y2="964.2" stroke="#ee9aae" stroke-opacity="0.05" stroke-width="1.7"/>
<line x1="1158.7" y1="922.3" x2="1121.9" y2="959.1" stroke="#ee9aae" stroke-opacity="0.04" stroke-width="1.7"/>
<line x1="1145.4" y1="908.6" x2="1116.8" y2="935.1" stroke="#ee9aae" stroke-opacity="0.03" stroke-width="1.7"/>
<line x1="1132.7" y1="894.3" x2="1103.1" y2="919.8" stroke="#ee9aae" stroke-opacity="0.02" stroke-width="1.7"/>
<line x1="1120.5" y1="879.6" x2="1090.0" y2="903.9" stroke="#ee9aae" stroke-opacity="0.02" stroke-width="1.7"/>
<line x1="1108.9" y1="864.4" x2="1077.5" y2="887.6" stroke="#ee9aae" stroke-opacity="0.02" stroke-width="1.7"/>
<line x1="1097.8" y1="848.9" x2="1065.6" y2="870.8" stroke="#ee9aae" stroke-opacity="0.02" stroke-width="1.7"/>
<line x1="1087.3" y1="832.9" x2="1043.3" y2="860.5" stroke="#ee9aae" stroke-opacity="0.02" stroke-width="1.7"/>
<line x1="1077.5" y1="816.5" x2="1043.7" y2="836.0" stroke="#ee9aae" stroke-opacity="0.02" stroke-width="1.7"/>
<line x1="1068.2" y1="799.8" x2="1033.7" y2="818.0" stroke="#ee9aae" stroke-opacity="0.01" stroke-width="1.7"/>
<line x1="1059.6" y1="782.7" x2="1024.5" y2="799.6" stroke="#ee9aae" stroke-opacity="0.01" stroke-width="1.7"/>
<line x1="1051.6" y1="765.3" x2="1015.9" y2="780.9" stroke="#ee9aae" stroke-opacity="0.01" stroke-width="1.7"/>
<line x1="1044.3" y1="747.7" x2="1008.0" y2="761.9" stroke="#ee9aae" stroke-opacity="0.01" stroke-width="1.7"/>
<line x1="1145.4" y1="213.4" x2="1116.8" y2="186.9" stroke="#ee9aae" stroke-opacity="0.01" stroke-width="1.7"/>
<line x1="1158.7" y1="199.7" x2="1121.9" y2="162.9" stroke="#ee9aae" stroke-opacity="0.03" stroke-width="1.7"/>
<line x1="1172.4" y1="186.4" x2="1145.9" y2="157.8" stroke="#ee9aae" stroke-opacity="0.04" stroke-width="1.7"/>
<line x1="1186.7" y1="173.7" x2="1161.2" y2="144.1" stroke="#ee9aae" stroke-opacity="0.05" stroke-width="1.7"/>
<line x1="1201.4" y1="161.5" x2="1177.1" y2="131.0" stroke="#ee9aae" stroke-opacity="0.06" stroke-width="1.7"/>
<line x1="1216.6" y1="149.9" x2="1193.4" y2="118.5" stroke="#ee9aae" stroke-opacity="0.07" stroke-width="1.7"/>
<line x1="1232.1" y1="138.8" x2="1210.2" y2="106.6" stroke="#ee9aae" stroke-opacity="0.08" stroke-width="1.7"/>
<line x1="1248.1" y1="128.3" x2="1220.5" y2="84.3" stroke="#ee9aae" stroke-opacity="0.09" stroke-width="1.7"/>
<line x1="1264.5" y1="118.5" x2="1245.0" y2="84.7" stroke="#ee9aae" stroke-opacity="0.10" stroke-width="1.7"/>
<line x1="1281.2" y1="109.2" x2="1263.0" y2="74.7" stroke="#ee9aae" stroke-opacity="0.11" stroke-width="1.7"/>
<line x1="1298.3" y1="100.6" x2="1281.4" y2="65.5" stroke="#ee9aae" stroke-opacity="0.13" stroke-width="1.7"/>
<line x1="1315.7" y1="92.6" x2="1300.1" y2="56.9" stroke="#ee9aae" stroke-opacity="0.14" stroke-width="1.7"/>
<line x1="1333.3" y1="85.3" x2="1319.1" y2="49.0" stroke="#ee9aae" stroke-opacity="0.16" stroke-width="1.7"/>
<line x1="1351.2" y1="78.7" x2="1334.1" y2="29.6" stroke="#ee9aae" stroke-opacity="0.17" stroke-width="1.7"/>
<line x1="1369.4" y1="72.7" x2="1357.9" y2="35.4" stroke="#ee9aae" stroke-opacity="0.19" stroke-width="1.7"/>
<line x1="1387.7" y1="67.4" x2="1377.6" y2="29.7" stroke="#ee9aae" stroke-opacity="0.20" stroke-width="1.7"/>
<line x1="1406.3" y1="62.8" x2="1397.6" y2="24.8" stroke="#ee9aae" stroke-opacity="0.21" stroke-width="1.7"/>
<line x1="1425.0" y1="58.9" x2="1417.7" y2="20.6" stroke="#ee9aae" stroke-opacity="0.23" stroke-width="1.7"/>
<line x1="1443.8" y1="55.7" x2="1438.0" y2="17.1" stroke="#ee9aae" stroke-opacity="0.24" stroke-width="1.7"/>
<line x1="1462.8" y1="53.2" x2="1457.0" y2="1.5" stroke="#ee9aae" stroke-opacity="0.26" stroke-width="1.7"/>
<line x1="1481.8" y1="51.4" x2="1478.9" y2="12.5" stroke="#ee9aae" stroke-opacity="0.27" stroke-width="1.7"/>
<line x1="1500.9" y1="50.4" x2="1499.4" y2="11.4" stroke="#ee9aae" stroke-opacity="0.29" stroke-width="1.7"/>
<line x1="1520.0" y1="50.0" x2="1520.0" y2="11.0" stroke="#ee9aae" stroke-opacity="0.30" stroke-width="1.7"/>
<line x1="1539.1" y1="50.4" x2="1540.6" y2="11.4" stroke="#ee9aae" stroke-opacity="0.32" stroke-width="1.7"/>
<line x1="1558.2" y1="51.4" x2="1561.1" y2="12.5" stroke="#ee9aae" stroke-opacity="0.34" stroke-width="1.7"/>
</g>
</svg>
<svg class="deco" width="2000" height="1125" viewBox="0 0 2000 1125">
<ellipse cx="100.2" cy="101.8" rx="3.0" ry="3.4" fill="#ff2a45" fill-opacity="0.04"/>
<ellipse cx="107.4" cy="101.8" rx="3.0" ry="3.4" fill="#ff2a45" fill-opacity="0.08"/>
<ellipse cx="130.0" cy="101.8" rx="3.0" ry="3.4" fill="#ff2a45" fill-opacity="0.37"/>
<ellipse cx="137.8" cy="101.8" rx="3.0" ry="3.4" fill="#ff2a45" fill-opacity="0.51"/>
<ellipse cx="107.4" cy="111.6" rx="3.0" ry="3.4" fill="#ff2a45" fill-opacity="0.08"/>
<ellipse cx="115.0" cy="111.6" rx="3.0" ry="3.4" fill="#ff2a45" fill-opacity="0.16"/>
<ellipse cx="137.8" cy="111.6" rx="3.0" ry="3.4" fill="#ff2a45" fill-opacity="0.51"/>
<ellipse cx="145.4" cy="111.6" rx="3.0" ry="3.4" fill="#ff2a45" fill-opacity="0.66"/>
<ellipse cx="115.0" cy="121.2" rx="3.0" ry="3.4" fill="#ff2a45" fill-opacity="0.16"/>
<ellipse cx="122.8" cy="121.2" rx="3.0" ry="3.4" fill="#ff2a45" fill-opacity="0.26"/>
<ellipse cx="145.4" cy="121.2" rx="3.0" ry="3.4" fill="#ff2a45" fill-opacity="0.66"/>
<ellipse cx="153.1" cy="121.2" rx="3.0" ry="3.4" fill="#ff2a45" fill-opacity="0.82"/>
<ellipse cx="122.8" cy="130.6" rx="3.0" ry="3.4" fill="#ff2a45" fill-opacity="0.26"/>
<ellipse cx="130.6" cy="130.6" rx="3.0" ry="3.4" fill="#ff2a45" fill-opacity="0.38"/>
<ellipse cx="153.1" cy="130.6" rx="3.0" ry="3.4" fill="#ff2a45" fill-opacity="0.82"/>
<ellipse cx="161.0" cy="130.6" rx="3.0" ry="3.4" fill="#ff2a45" fill-opacity="1.00"/>
<ellipse cx="115.0" cy="140.4" rx="3.0" ry="3.4" fill="#ff2a45" fill-opacity="0.16"/>
<ellipse cx="122.8" cy="140.4" rx="3.0" ry="3.4" fill="#ff2a45" fill-opacity="0.26"/>
<ellipse cx="145.4" cy="140.4" rx="3.0" ry="3.4" fill="#ff2a45" fill-opacity="0.66"/>
<ellipse cx="153.1" cy="140.4" rx="3.0" ry="3.4" fill="#ff2a45" fill-opacity="0.82"/>
<ellipse cx="107.4" cy="150.4" rx="3.0" ry="3.4" fill="#ff2a45" fill-opacity="0.08"/>
<ellipse cx="115.0" cy="150.4" rx="3.0" ry="3.4" fill="#ff2a45" fill-opacity="0.16"/>
<ellipse cx="137.8" cy="150.4" rx="3.0" ry="3.4" fill="#ff2a45" fill-opacity="0.51"/>
<ellipse cx="145.4" cy="150.4" rx="3.0" ry="3.4" fill="#ff2a45" fill-opacity="0.66"/>
<ellipse cx="100.2" cy="158.8" rx="3.0" ry="3.4" fill="#ff2a45" fill-opacity="0.04"/>
<ellipse cx="107.4" cy="158.8" rx="3.0" ry="3.4" fill="#ff2a45" fill-opacity="0.08"/>
<ellipse cx="130.0" cy="158.8" rx="3.0" ry="3.4" fill="#ff2a45" fill-opacity="0.37"/>
<ellipse cx="137.8" cy="158.8" rx="3.0" ry="3.4" fill="#ff2a45" fill-opacity="0.51"/>
</svg>
<div class="title"><span class="d">80%</span><span class="c">的受众偏好单集</span><span class="d">3</span><span class="c">分钟以上，</span><span class="d">85%</span><span class="c">的受众偏好</span><span class="d">40</span><span class="c">集以内的微短剧</span></div>
<div class="uline"></div>
<div class="logo" style="left:1807.5px;top:79.7px;font-size:46px;line-height:46px;transform:scaleX(0.499)">Miaozhen</div>
<div class="logo" style="left:1816px;top:115.8px;font-size:40px;line-height:40px;transform:scaleX(0.516)">Systems</div>
<div class="abs" style="left:1908px;top:95px;width:6.5px;height:6.5px;border:1.6px solid #e06068;border-radius:50%;background:#f3b0b5"></div>
<div class="card" style="left:102px"></div>
<div class="card" style="left:1034px"></div>
<div class="accent" style="left:942px"></div>
<div class="accent" style="left:1875px"></div>
<div class="ctitle" style="left:178px">偏好的微短剧时长分布</div>
<div class="ctitle" style="left:1110px">偏好的微短剧集数分布</div>
<div class="axis" style="left:303px"></div>
<div class="bar" style="left:305px;top:474px;width:19.1px"></div>
<div class="lab" style="left:-14.5px;top:473.5px">单集1分钟以内</div>
<div class="val" style="left:335.6px;top:474.5px">2.0%</div>
<div class="bar" style="left:305px;top:550px;width:144.1px"></div>
<div class="lab" style="left:-14.5px;top:549.5px">单集1~3分钟</div>
<div class="val" style="left:460.6px;top:550.5px">15.1%</div>
<div class="bar" style="left:305px;top:626px;width:378.7px"></div>
<div class="lab" style="left:-14.5px;top:625.5px">单集3~5分钟</div>
<div class="val" style="left:695.2px;top:626.5px">39.7%</div>
<div class="bar" style="left:305px;top:703px;width:237.5px"></div>
<div class="lab" style="left:-14.5px;top:702.5px">单集5~10分钟</div>
<div class="val" style="left:554.0px;top:703.5px">24.9%</div>
<div class="bar" style="left:305px;top:779px;width:144.1px"></div>
<div class="lab" style="left:-14.5px;top:778.5px">单集10分钟以上</div>
<div class="val" style="left:460.6px;top:779.5px">15.1%</div>
<div class="bar" style="left:305px;top:855px;width:30.5px"></div>
<div class="lab" style="left:-14.5px;top:854.5px">无所谓</div>
<div class="val" style="left:347.0px;top:855.5px">3.2%</div>
<div class="axis" style="left:1250px"></div>
<div class="bar" style="left:1252px;top:474px;width:96.4px"></div>
<div class="lab" style="left:932.5px;top:473.5px">10集及以内</div>
<div class="val" style="left:1359.9px;top:474.5px">7.5%</div>
<div class="bar" style="left:1252px;top:550px;width:282.7px"></div>
<div class="lab" style="left:932.5px;top:549.5px">11~20集</div>
<div class="val" style="left:1546.2px;top:550.5px">22.0%</div>
<div class="bar" style="left:1252px;top:626px;width:433.0px"></div>
<div class="lab" style="left:932.5px;top:625.5px">21~30集</div>
<div class="val" style="left:1696.5px;top:626.5px">33.7%</div>
<div class="bar" style="left:1252px;top:703px;width:272.4px"></div>
<div class="lab" style="left:932.5px;top:702.5px">31~40集</div>
<div class="val" style="left:1535.9px;top:703.5px">21.2%</div>
<div class="bar" style="left:1252px;top:779px;width:163.2px"></div>
<div class="lab" style="left:932.5px;top:778.5px">40集以上</div>
<div class="val" style="left:1426.7px;top:779.5px">12.7%</div>
<div class="bar" style="left:1252px;top:855px;width:36.0px"></div>
<div class="lab" style="left:932.5px;top:854.5px">无所谓</div>
<div class="val" style="left:1299.5px;top:855.5px">2.8%</div>
<div class="note" style="top:1009px">数据来源：秒针微短剧用户在线定量调研，2024年1月，N=1,000</div>
<div class="note" style="top:1026.5px">B15. 请问，您更倾向于看多长时间一集的微短剧？如果有多种倾向，请选项最倾向的时长。【单选】</div>
<div class="note" style="top:1044px">B16. 请问，您更倾向于观看全剧一共多少集的微短剧？如果有多种倾向，请选项最倾向的集数。【单选】</div>
<div class="copy">© 2006-2024 秒针系统 版权所有</div>
<div class="pnum">46</div>
</body></html>
